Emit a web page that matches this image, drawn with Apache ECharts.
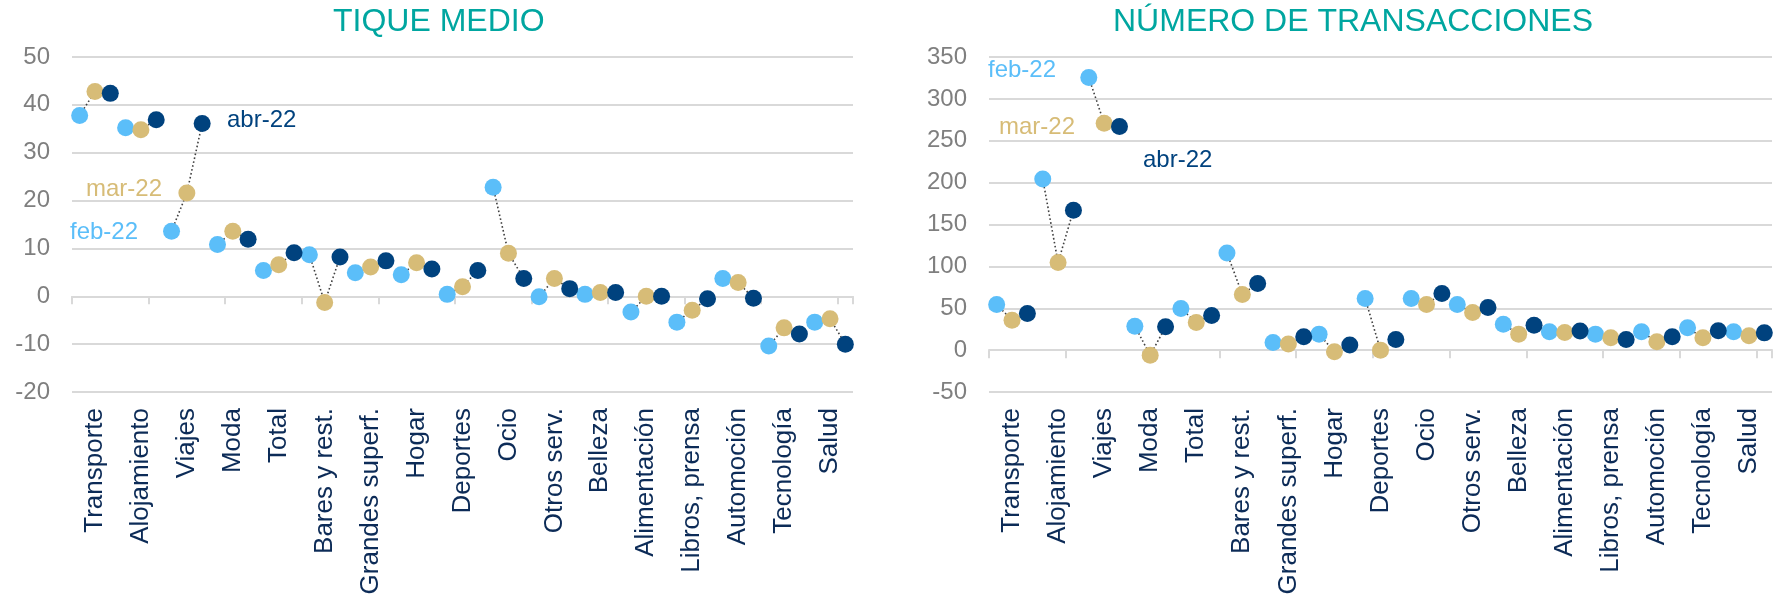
<!DOCTYPE html>
<html>
<head>
<meta charset="utf-8">
<script src="https://cdn.jsdelivr.net/npm/echarts@6/dist/echarts.min.js"></script>
<style>
html,body{margin:0;padding:0;background:#fff;}
#c{width:1777px;height:599px;}
</style>
</head>
<body>
<div id="c"></div>
<script>
// ---- data ----
const categories = ['Transporte','Alojamiento','Viajes','Moda','Total','Bares y rest.','Grandes superf.','Hogar','Deportes','Ocio','Otros serv.','Belleza','Alimentación','Libros, prensa','Automoción','Tecnología','Salud'];
const months = ['feb-22','mar-22','abr-22'];

// TIQUE MEDIO
const tiqueFeb = [37.8, 35.2, 13.6, 10.8, 5.4, 8.7, 4.9, 4.5, 0.4, 22.8, -0.1, 0.4, -3.3, -5.4, 3.7, -10.4, -5.4];
const tiqueMar = [42.8, 34.8, 21.6, 13.6, 6.6, -1.3, 6.1, 7.0, 2.0, 9.0, 3.7, 0.8, 0.0, -2.9, 2.9, -6.6, -4.7];
const tiqueAbr = [42.4, 36.9, 36.1, 11.9, 9.1, 8.2, 7.4, 5.7, 5.4, 3.7, 1.6, 0.8, 0.0, -0.5, -0.4, -7.9, -10.0];

// NÚMERO DE TRANSACCIONES
const transFeb = [54.5, 204.4, 325.4, 28.6, 49.7, 116.1, 9.2, 19.1, 61.7, 61.7, 54.5, 31.0, 21.9, 19.1, 21.9, 26.6, 21.9];
const transMar = [35.8, 104.6, 270.9, -6.0, 33.0, 66.5, 7.2, -2.0, 0.0, 54.5, 45.0, 19.1, 21.1, 14.7, 9.9, 14.7, 17.1];
const transAbr = [43.8, 167.0, 266.9, 27.8, 41.4, 79.6, 15.9, 6.0, 12.7, 67.6, 50.9, 29.8, 22.7, 12.7, 15.9, 23.0, 20.6];

const tiqueTicks = {min: -20, max: 50, interval: 10};
const transTicks = {min: -50, max: 350, interval: 50};

// ---- styles ----
const FONT = "'Liberation Sans', Arial, sans-serif";
const colors = ['#5bbef9', '#d7bc77', '#00427e'];
const navy = '#0c2b57';
const grey = '#7f7f7f';
const gridCol = '#d9d9d9';
const teal = '#00a6a0';

// slot axis: 3 slots per category
const slots = [];
categories.forEach((c, g) => { for (let k = 0; k < 3; k++) slots.push(c + '#' + k); });

function slotLabel(v) {
  const p = v.split('#');
  return p[1] === '1' ? p[0] : '';
}

const grids = [
  {left: 72, width: 781, top: 57, height: 335},
  {left: 989, width: 783, top: 57, height: 335}
];

const xAxes = [], yAxes = [], series = [];
const panels = [
  {data: [tiqueFeb, tiqueMar, tiqueAbr], ticks: tiqueTicks},
  {data: [transFeb, transMar, transAbr], ticks: transTicks}
];

panels.forEach((p, gi) => {
  // label axis (bottom)
  xAxes.push({
    type: 'category', gridIndex: gi, data: slots, position: 'bottom', boundaryGap: true,
    axisLine: {show: false, onZero: false}, axisTick: {show: false},
    axisLabel: {interval: 0, rotate: 90, margin: 16, fontSize: 26, color: navy, fontFamily: FONT, formatter: slotLabel}
  });
  // zero line axis with ticks
  xAxes.push({
    type: 'category', gridIndex: gi, data: slots, position: 'bottom', boundaryGap: true,
    axisLine: {show: true, onZero: true, lineStyle: {color: gridCol, width: 2}},
    axisTick: {show: true, interval: 4, length: 8, lineStyle: {color: gridCol, width: 2}},
    axisLabel: {show: false}
  });
  yAxes.push({
    type: 'value', gridIndex: gi, min: p.ticks.min, max: p.ticks.max, interval: p.ticks.interval,
    axisLine: {show: false}, axisTick: {show: false},
    splitLine: {lineStyle: {color: gridCol, width: 2}},
    axisLabel: {fontSize: 24, color: grey, fontFamily: FONT, margin: 22}
  });
  const xZero = gi * 2 + 1;
  // dotted connectors, one per category
  categories.forEach((c, g) => {
    series.push({
      type: 'line', xAxisIndex: xZero, yAxisIndex: gi, symbol: 'none', silent: true, z: 1,
      lineStyle: {color: '#404040', width: 1.6, type: [1.6, 2.4]},
      data: [0, 1, 2].map(k => [g * 3 + k, p.data[k][g]])
    });
  });
  // points
  [0, 1, 2].forEach(k => {
    series.push({
      type: 'scatter', name: months[k], xAxisIndex: xZero, yAxisIndex: gi, z: 3 + k,
      symbol: 'circle', symbolSize: 17,
      itemStyle: {color: colors[k], opacity: 1},
      data: p.data[k].map((v, g) => [g * 3 + k, v])
    });
  });
});

const labelStyle = (text, x, y, color) => ({
  type: 'text', left: x, top: y - 14,
  style: {text: text, fontSize: 24, fill: color, fontFamily: FONT}
});

const option = {
  backgroundColor: '#fff',
  animation: false,
  title: [
    {text: 'TIQUE MEDIO', left: 333, top: 6, padding: 0, textStyle: {fontSize: 32, fontWeight: 'normal', color: teal, fontFamily: FONT}},
    {text: 'NÚMERO DE TRANSACCIONES', left: 1113, top: 6, padding: 0, textStyle: {fontSize: 32, fontWeight: 'normal', color: teal, fontFamily: FONT}}
  ],
  grid: grids,
  xAxis: xAxes,
  yAxis: yAxes,
  series: series,
  graphic: [
    labelStyle('feb-22', 70, 234, colors[0]),
    labelStyle('mar-22', 86, 191, colors[1]),
    labelStyle('abr-22', 227, 122, colors[2]),
    labelStyle('feb-22', 988, 72, colors[0]),
    labelStyle('mar-22', 999, 129, colors[1]),
    labelStyle('abr-22', 1143, 162, colors[2])
  ]
};

const chart = echarts.init(document.getElementById('c'), null, {renderer: 'canvas'});
chart.setOption(option);
</script>
</body>
</html>
